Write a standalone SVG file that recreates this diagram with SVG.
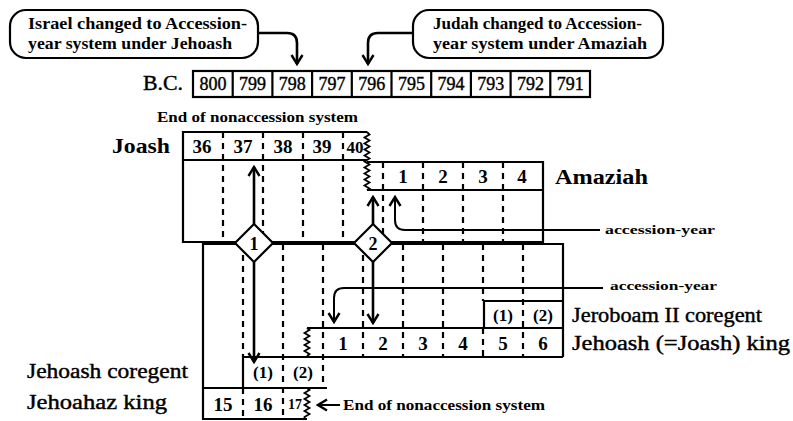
<svg xmlns="http://www.w3.org/2000/svg" width="793" height="421" viewBox="0 0 793 421">
<style>
.ln{fill:none;stroke:#000;stroke-width:2.2}
.ds{fill:none;stroke:#000;stroke-width:2.2;stroke-dasharray:6 5}
.ar{fill:none;stroke:#000;stroke-width:2.6;marker-end:url(#hd)}
.al{fill:none;stroke:#000;stroke-width:2;marker-end:url(#hd)}
.zz{fill:none;stroke:#000;stroke-width:1.8;stroke-linejoin:miter}
.tx{font-family:"Liberation Serif","DejaVu Serif",serif;fill:#000}
.rg{stroke:#000;stroke-width:0.4}
.b{font-weight:bold}
.c{text-anchor:middle}
.dm{fill:#fff;stroke:#000;stroke-width:2.2}
</style>
<defs>
<marker id="hd" viewBox="-12 -7 14 14" refX="0" refY="0" markerWidth="14" markerHeight="14" markerUnits="userSpaceOnUse" orient="auto">
<path d="M-9,-5.5 L0,0 L-9,5.5" fill="none" stroke="#000" stroke-width="2.4"/>
</marker>
</defs>

<!-- callouts -->
<g id="callout-israel">
<rect x="10" y="10" width="248" height="48" rx="16" class="ln"/>
<text class="tx b" x="28" y="29" font-size="16" textLength="219" lengthAdjust="spacingAndGlyphs">Israel changed to Accession-</text>
<text class="tx b" x="28" y="49" font-size="16" textLength="204" lengthAdjust="spacingAndGlyphs">year system under Jehoash</text>
</g>
<g id="callout-judah">
<rect x="413" y="10" width="250" height="48" rx="16" class="ln"/>
<text class="tx b" x="433" y="29" font-size="16" textLength="209" lengthAdjust="spacingAndGlyphs">Judah changed to Accession-</text>
<text class="tx b" x="433" y="49" font-size="16" textLength="214" lengthAdjust="spacingAndGlyphs">year system under Amaziah</text>
</g>

<!-- B.C. year scale -->
<g id="bc-scale">
<text class="tx rg" x="143" y="90" font-size="20" textLength="40" lengthAdjust="spacingAndGlyphs">B.C.</text>
<rect x="193" y="71" width="397" height="26" class="ln"/>
<path class="ln" d="M232.7,71V97M272.4,71V97M312.1,71V97M351.8,71V97M391.5,71V97M431.2,71V97M470.9,71V97M510.6,71V97M550.3,71V97"/>
<g class="tx rg c" font-size="18">
<text x="212.9" y="90">800</text><text x="252.6" y="90">799</text><text x="292.3" y="90">798</text><text x="332" y="90">797</text><text x="371.7" y="90">796</text>
<text x="411.4" y="90">795</text><text x="451.1" y="90">794</text><text x="490.8" y="90">793</text><text x="530.5" y="90">792</text><text x="570.2" y="90">791</text>
</g>
</g>

<!-- Judah: Joash and Amaziah -->
<g id="judah-reigns">
<text class="tx b" x="157" y="122" font-size="14" textLength="201" lengthAdjust="spacingAndGlyphs">End of nonaccession system</text>
<text class="tx b" x="112" y="153" font-size="21" textLength="58" lengthAdjust="spacingAndGlyphs">Joash</text>
<path class="ln" d="M367,132H183V242H543V162H367M183,160H367M367,190H543"/>
<path class="zz" d="M367,132l2.5,2.5l-5,3l5,3l-5,3l5,3l-5,3l5,3l-5,3l5,3l-5,3l5,3l-5,3l5,3l-5,3l5,3l-5,3l5,3l-5,3l5,3l-2.5,1.5"/>
<path class="ds" d="M223,132V242M263,132V242M303,132V242M343,132V242M383,162V242M423,162V242M463,162V242M503,162V242"/>
<g class="tx b c" font-size="19">
<text x="202" y="153">36</text><text x="243" y="153">37</text><text x="283" y="153">38</text><text x="322" y="153">39</text><text x="355" y="153" font-size="17">40</text>
<text x="403" y="183">1</text><text x="443" y="183">2</text><text x="483" y="183">3</text><text x="522" y="183">4</text>
</g>
<text class="tx b" x="555" y="184" font-size="20" textLength="93" lengthAdjust="spacingAndGlyphs">Amaziah</text>
</g>

<!-- Israel: Jehoahaz, Jehoash, Jeroboam II -->
<g id="israel-reigns">
<path class="ln" d="M203,420V244H563V357M243,357H563M307,328H563M484,328V301H563M243,357V388M203,388H327M203,419H307"/>
<path class="zz" d="M307,328l2.5,2l-5,3l5,3l-5,3l5,3l-5,3l5,3l-5,3l5,3l-2.5,2"/>
<path class="zz" d="M307,388l2.5,2l-5,3l5,3l-5,3l5,3l-5,3l5,3l-5,3l5,3l-5,3l-0,1"/>
<path class="ds" d="M243,244V357M243,388V419M283,244V419M323,244V388M363,244V357M403,244V357M443,244V357M483,244V301M483,328V357M523,244V357"/>
<g class="tx b c" font-size="19">
<text x="343" y="349.5">1</text><text x="383" y="349.5">2</text><text x="423" y="349.5">3</text><text x="463" y="349.5">4</text><text x="503" y="349.5">5</text><text x="543" y="349.5">6</text>
<text x="223" y="410.5">15</text><text x="263" y="410.5">16</text><text x="295" y="409" font-size="14">17</text>
</g>
<g class="tx b c" font-size="17">
<text x="503" y="321">(1)</text><text x="543" y="321">(2)</text>
<text x="263" y="378">(1)</text><text x="303" y="378">(2)</text>
</g>
<text class="tx rg" x="572" y="322" font-size="20" textLength="190" lengthAdjust="spacingAndGlyphs">Jeroboam II coregent</text>
<text class="tx rg" x="572" y="350" font-size="20" textLength="218" lengthAdjust="spacingAndGlyphs">Jehoash (=Joash) king</text>
<text class="tx rg" x="27" y="378" font-size="20" textLength="161" lengthAdjust="spacingAndGlyphs">Jehoash coregent</text>
<text class="tx rg" x="27" y="409" font-size="20" textLength="140" lengthAdjust="spacingAndGlyphs">Jehoahaz king</text>
<text class="tx b" x="343" y="410" font-size="14" textLength="202" lengthAdjust="spacingAndGlyphs">End of nonaccession system</text>
<text class="tx b" x="605" y="234" font-size="13" textLength="110" lengthAdjust="spacingAndGlyphs">accession-year</text>
<text class="tx b" x="610" y="290" font-size="13" textLength="107" lengthAdjust="spacingAndGlyphs">accession-year</text>
</g>

<!-- connectors -->
<g id="connectors">
<path class="ar" d="M258,33H287Q297,33 297,43V64"/>
<path class="ar" d="M413,33H378Q368,33 368,43V64"/>
<path class="ar" d="M254,224V167"/>
<path class="ar" d="M373,224V197"/>
<path class="ar" d="M254,262V362"/>
<path class="ar" d="M373,262V323"/>
<path class="al" d="M600,230H405Q395,230 395,220V197"/>
<path class="al" d="M603,288H344Q334,288 334,298V322"/>
<path class="al" d="M340,405H318"/>
</g>

<!-- collision markers -->
<g id="marker-1">
<polygon class="dm" points="254,224 273,243 254,262 235,243"/>
<text class="tx b c" x="254" y="249.5" font-size="18">1</text>
</g>
<g id="marker-2">
<polygon class="dm" points="373,224 392,243 373,262 354,243"/>
<text class="tx b c" x="373" y="249.5" font-size="18">2</text>
</g>
</svg>
